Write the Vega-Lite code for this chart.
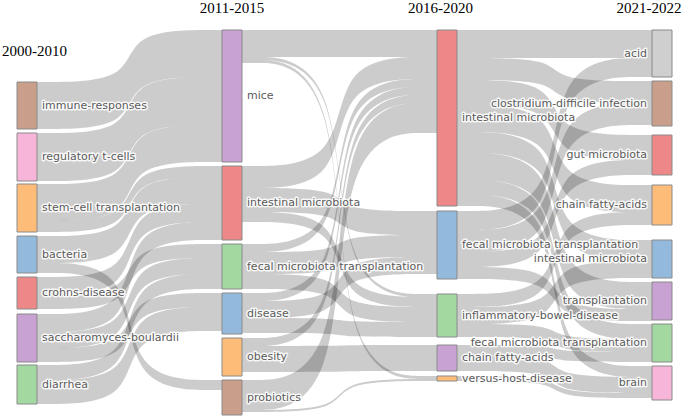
{
  "$schema": "https://vega.github.io/schema/vega-lite/v6.json",
  "width": 685,
  "height": 419,
  "autosize": {"type": "fit", "contains": "padding"},
  "padding": 0,
  "background": "white",
  "config": {"view": {"stroke": null}},
  "datasets": {
    "links": [
      {"link": "2000-2010 immune-responses → 2011-2015 mice", "px": [37,129.5,129.5,222], "top": [82,82,30,30], "bot": [129,129,77,77]},
      {"link": "2000-2010 regulatory t-cells → 2011-2015 mice", "px": [37,129.5,129.5,222], "top": [133,133,77,77], "bot": [181,181,125,125]},
      {"link": "2000-2010 stem-cell transplantation → 2011-2015 mice", "px": [37,129.5,129.5,222], "top": [184,184,125,125], "bot": [221,221,162,162]},
      {"link": "2000-2010 stem-cell transplantation → 2011-2015 intestinal microbiota", "px": [37,129.5,129.5,222], "top": [221,221,166,166], "bot": [232,232,177,177]},
      {"link": "2000-2010 bacteria → 2011-2015 intestinal microbiota", "px": [37,129.5,129.5,222], "top": [236,236,177,177], "bot": [263,263,204,204]},
      {"link": "2000-2010 bacteria → 2011-2015 probiotics", "px": [37,129.5,129.5,222], "top": [263,263,380,380], "bot": [273,273,390,390]},
      {"link": "2000-2010 crohns-disease → 2011-2015 intestinal microbiota", "px": [37,129.5,129.5,222], "top": [277,277,204,204], "bot": [295,295,222,222]},
      {"link": "2000-2010 crohns-disease → 2011-2015 fecal microbiota transplantation", "px": [37,129.5,129.5,222], "top": [295,295,244,244], "bot": [309,309,258,258]},
      {"link": "2000-2010 saccharomyces-boulardii → 2011-2015 intestinal microbiota", "px": [37,129.5,129.5,222], "top": [314,314,222,222], "bot": [332,332,240,240]},
      {"link": "2000-2010 saccharomyces-boulardii → 2011-2015 fecal microbiota transplantation", "px": [37,129.5,129.5,222], "top": [332,332,258,258], "bot": [348,348,274,274]},
      {"link": "2000-2010 saccharomyces-boulardii → 2011-2015 disease", "px": [37,129.5,129.5,222], "top": [348,348,293,293], "bot": [362,362,307,307]},
      {"link": "2000-2010 diarrhea → 2011-2015 fecal microbiota transplantation", "px": [37,129.5,129.5,222], "top": [365,365,274,274], "bot": [380,380,289,289]},
      {"link": "2000-2010 diarrhea → 2011-2015 disease", "px": [37,129.5,129.5,222], "top": [380,380,307,307], "bot": [404,404,331,331]},

      {"link": "2011-2015 mice → 2016-2020 intestinal microbiota", "px": [242,339.5,339.5,437], "top": [30,30,30,30], "bot": [57,57,57,57]},
      {"link": "2011-2015 mice → 2016-2020 inflammatory-bowel-disease", "px": [242,339.5,339.5,437], "top": [57,57,294,294], "bot": [60,60,297,297]},
      {"link": "2011-2015 mice → 2016-2020 versus-host-disease", "px": [242,339.5,339.5,437], "top": [60,60,376,376], "bot": [63,63,379,379]},
      {"link": "2011-2015 intestinal microbiota → 2016-2020 intestinal microbiota", "px": [242,339.5,339.5,437], "top": [166,166,57,57], "bot": [188,188,79,79]},
      {"link": "2011-2015 intestinal microbiota → 2016-2020 fecal microbiota transplantation", "px": [242,339.5,339.5,437], "top": [188,188,211,211], "bot": [212,212,235,235]},
      {"link": "2011-2015 intestinal microbiota → 2016-2020 inflammatory-bowel-disease", "px": [242,339.5,339.5,437], "top": [212,212,297,297], "bot": [222,222,307,307]},
      {"link": "2011-2015 fecal microbiota transplantation → 2016-2020 intestinal microbiota", "px": [242,339.5,339.5,437], "top": [244,244,79,79], "bot": [252,252,87,87]},
      {"link": "2011-2015 fecal microbiota transplantation → 2016-2020 fecal microbiota transplantation", "px": [242,339.5,339.5,437], "top": [252,252,235,235], "bot": [274,274,257,257]},
      {"link": "2011-2015 fecal microbiota transplantation → 2016-2020 inflammatory-bowel-disease", "px": [242,339.5,339.5,437], "top": [274,274,307,307], "bot": [289,289,322,322]},
      {"link": "2011-2015 disease → 2016-2020 intestinal microbiota", "px": [242,339.5,339.5,437], "top": [293,293,87,87], "bot": [301,301,95,95]},
      {"link": "2011-2015 disease → 2016-2020 fecal microbiota transplantation", "px": [242,339.5,339.5,437], "top": [301,301,257,257], "bot": [318,318,274,274]},
      {"link": "2011-2015 disease → 2016-2020 inflammatory-bowel-disease", "px": [242,339.5,339.5,437], "top": [318,318,322,322], "bot": [333,333,337,337]},
      {"link": "2011-2015 obesity → 2016-2020 intestinal microbiota", "px": [242,339.5,339.5,437], "top": [338,338,95,95], "bot": [346,346,103,103]},
      {"link": "2011-2015 obesity → 2016-2020 chain fatty-acids", "px": [242,339.5,339.5,437], "top": [346,346,345,345], "bot": [372,372,371,371]},
      {"link": "2011-2015 probiotics → 2016-2020 intestinal microbiota", "px": [242,339.5,339.5,437], "top": [380,380,103,103], "bot": [410,410,133,133]},
      {"link": "2011-2015 probiotics → 2016-2020 versus-host-disease", "px": [242,339.5,339.5,437], "top": [410,410,379,379], "bot": [412,412,381,381]},

      {"link": "2016-2020 intestinal microbiota → 2021-2022 acid", "px": [457,554.5,554.5,652], "top": [30,30,30,30], "bot": [58,58,58,58]},
      {"link": "2016-2020 intestinal microbiota → 2021-2022 clostridium-difficile infection", "px": [457,554.5,554.5,652], "top": [58,58,81,81], "bot": [80,80,103,103]},
      {"link": "2016-2020 intestinal microbiota → 2021-2022 gut microbiota", "px": [457,554.5,554.5,652], "top": [80,80,135,135], "bot": [105,105,160,160]},
      {"link": "2016-2020 intestinal microbiota → 2021-2022 chain fatty-acids", "px": [457,554.5,554.5,652], "top": [105,105,185,185], "bot": [132,132,212,212]},
      {"link": "2016-2020 intestinal microbiota → 2021-2022 intestinal microbiota", "px": [457,554.5,554.5,652], "top": [132,132,240,240], "bot": [153,153,261,261]},
      {"link": "2016-2020 intestinal microbiota → 2021-2022 transplantation", "px": [457,554.5,554.5,652], "top": [153,153,282,282], "bot": [180,180,309,309]},
      {"link": "2016-2020 intestinal microbiota → 2021-2022 fecal microbiota transplantation", "px": [457,554.5,554.5,652], "top": [180,180,324,324], "bot": [195,195,339,339]},
      {"link": "2016-2020 intestinal microbiota → 2021-2022 brain", "px": [457,554.5,554.5,652], "top": [195,195,366,366], "bot": [206,206,377,377]},
      {"link": "2016-2020 fecal microbiota transplantation → 2021-2022 acid", "px": [457,554.5,554.5,652], "top": [211,211,58,58], "bot": [230,230,77,77]},
      {"link": "2016-2020 fecal microbiota transplantation → 2021-2022 clostridium-difficile infection", "px": [457,554.5,554.5,652], "top": [230,230,103,103], "bot": [252,252,125,125]},
      {"link": "2016-2020 fecal microbiota transplantation → 2021-2022 gut microbiota", "px": [457,554.5,554.5,652], "top": [252,252,160,160], "bot": [267,267,175,175]},
      {"link": "2016-2020 fecal microbiota transplantation → 2021-2022 transplantation", "px": [457,554.5,554.5,652], "top": [267,267,309,309], "bot": [279,279,321,321]},
      {"link": "2016-2020 inflammatory-bowel-disease → 2021-2022 chain fatty-acids", "px": [457,554.5,554.5,652], "top": [294,294,212,212], "bot": [307,307,225,225]},
      {"link": "2016-2020 inflammatory-bowel-disease → 2021-2022 intestinal microbiota", "px": [457,554.5,554.5,652], "top": [307,307,261,261], "bot": [324,324,278,278]},
      {"link": "2016-2020 inflammatory-bowel-disease → 2021-2022 fecal microbiota transplantation", "px": [457,554.5,554.5,652], "top": [324,324,339,339], "bot": [337,337,352,352]},
      {"link": "2016-2020 chain fatty-acids → 2021-2022 fecal microbiota transplantation", "px": [457,554.5,554.5,652], "top": [345,345,352,352], "bot": [355,355,362,362]},
      {"link": "2016-2020 chain fatty-acids → 2021-2022 brain", "px": [457,554.5,554.5,652], "top": [355,355,377,377], "bot": [371,371,393,393]},
      {"link": "2016-2020 versus-host-disease → 2021-2022 brain", "px": [457,554.5,554.5,652], "top": [376,376,393,393], "bot": [381,381,398,398]}
    ],
    "nodes": [
      {"id": "0 immune-responses", "stage": 0, "name": "immune-responses", "x0": 17, "x1": 37, "y0": 82, "y1": 129},
      {"id": "0 regulatory t-cells", "stage": 0, "name": "regulatory t-cells", "x0": 17, "x1": 37, "y0": 133, "y1": 181},
      {"id": "0 stem-cell transplantation", "stage": 0, "name": "stem-cell transplantation", "x0": 17, "x1": 37, "y0": 184, "y1": 232},
      {"id": "0 bacteria", "stage": 0, "name": "bacteria", "x0": 17, "x1": 37, "y0": 236, "y1": 273},
      {"id": "0 crohns-disease", "stage": 0, "name": "crohns-disease", "x0": 17, "x1": 37, "y0": 277, "y1": 309},
      {"id": "0 saccharomyces-boulardii", "stage": 0, "name": "saccharomyces-boulardii", "x0": 17, "x1": 37, "y0": 314, "y1": 362},
      {"id": "0 diarrhea", "stage": 0, "name": "diarrhea", "x0": 17, "x1": 37, "y0": 365, "y1": 404},
      {"id": "1 mice", "stage": 1, "name": "mice", "x0": 222, "x1": 242, "y0": 30, "y1": 162},
      {"id": "1 intestinal microbiota", "stage": 1, "name": "intestinal microbiota", "x0": 222, "x1": 242, "y0": 166, "y1": 240},
      {"id": "1 fecal microbiota transplantation", "stage": 1, "name": "fecal microbiota transplantation", "x0": 222, "x1": 242, "y0": 244, "y1": 289},
      {"id": "1 disease", "stage": 1, "name": "disease", "x0": 222, "x1": 242, "y0": 293, "y1": 334},
      {"id": "1 obesity", "stage": 1, "name": "obesity", "x0": 222, "x1": 242, "y0": 338, "y1": 376},
      {"id": "1 probiotics", "stage": 1, "name": "probiotics", "x0": 222, "x1": 242, "y0": 380, "y1": 415},
      {"id": "2 intestinal microbiota", "stage": 2, "name": "intestinal microbiota", "x0": 437, "x1": 457, "y0": 30, "y1": 206},
      {"id": "2 fecal microbiota transplantation", "stage": 2, "name": "fecal microbiota transplantation", "x0": 437, "x1": 457, "y0": 211, "y1": 279},
      {"id": "2 inflammatory-bowel-disease", "stage": 2, "name": "inflammatory-bowel-disease", "x0": 437, "x1": 457, "y0": 294, "y1": 337},
      {"id": "2 chain fatty-acids", "stage": 2, "name": "chain fatty-acids", "x0": 437, "x1": 457, "y0": 345, "y1": 371},
      {"id": "2 versus-host-disease", "stage": 2, "name": "versus-host-disease", "x0": 437, "x1": 457, "y0": 376, "y1": 381},
      {"id": "3 acid", "stage": 3, "name": "acid", "x0": 652, "x1": 672, "y0": 30, "y1": 77},
      {"id": "3 clostridium-difficile infection", "stage": 3, "name": "clostridium-difficile infection", "x0": 652, "x1": 672, "y0": 81, "y1": 126},
      {"id": "3 gut microbiota", "stage": 3, "name": "gut microbiota", "x0": 652, "x1": 672, "y0": 135, "y1": 175},
      {"id": "3 chain fatty-acids", "stage": 3, "name": "chain fatty-acids", "x0": 652, "x1": 672, "y0": 185, "y1": 225},
      {"id": "3 intestinal microbiota", "stage": 3, "name": "intestinal microbiota", "x0": 652, "x1": 672, "y0": 240, "y1": 278},
      {"id": "3 transplantation", "stage": 3, "name": "transplantation", "x0": 652, "x1": 672, "y0": 282, "y1": 320},
      {"id": "3 fecal microbiota transplantation", "stage": 3, "name": "fecal microbiota transplantation", "x0": 652, "x1": 672, "y0": 324, "y1": 362},
      {"id": "3 brain", "stage": 3, "name": "brain", "x0": 652, "x1": 672, "y0": 366, "y1": 400}
    ],
    "stages": [
      {"title": "2000-2010", "x": 34.5, "y": 51},
      {"title": "2011-2015", "x": 232, "y": 8},
      {"title": "2016-2020", "x": 440.5, "y": 8},
      {"title": "2021-2022", "x": 649, "y": 8}
    ]
  },
  "layer": [
    {
      "data": {"name": "links"},
      "transform": [{"flatten": ["px", "top", "bot"]}],
      "mark": {"type": "area", "interpolate": "basis", "color": "#000000", "opacity": 0.2},
      "encoding": {
        "x": {"field": "px", "type": "quantitative", "scale": {"domain": [0, 685], "nice": false, "zero": false}, "axis": null},
        "y": {"field": "top", "type": "quantitative", "scale": {"domain": [0, 419], "reverse": true, "nice": false, "zero": false}, "axis": null},
        "y2": {"field": "bot"},
        "detail": {"field": "link", "type": "nominal"}
      }
    },
    {
      "data": {"name": "nodes"},
      "mark": {"type": "rect", "stroke": "#8a8a8a", "strokeWidth": 1},
      "encoding": {
        "x": {"field": "x0", "type": "quantitative"},
        "x2": {"field": "x1"},
        "y": {"field": "y0", "type": "quantitative"},
        "y2": {"field": "y1"},
        "color": {
          "field": "id", "type": "nominal", "legend": null,
          "scale": {
            "domain": ["0 immune-responses", "0 regulatory t-cells", "0 stem-cell transplantation", "0 bacteria", "0 crohns-disease", "0 saccharomyces-boulardii", "0 diarrhea",
                       "1 mice", "1 intestinal microbiota", "1 fecal microbiota transplantation", "1 disease", "1 obesity", "1 probiotics",
                       "2 intestinal microbiota", "2 fecal microbiota transplantation", "2 inflammatory-bowel-disease", "2 chain fatty-acids", "2 versus-host-disease",
                       "3 acid", "3 clostridium-difficile infection", "3 gut microbiota", "3 chain fatty-acids", "3 intestinal microbiota", "3 transplantation", "3 fecal microbiota transplantation", "3 brain"],
            "range": ["#c99f8b", "#f7b6d9", "#fdbc78", "#93badd", "#ee8888", "#c8a2d2", "#a4d8a1",
                      "#c8a2d2", "#ee8888", "#a4d8a1", "#93badd", "#fdbc78", "#c99f8b",
                      "#ee8888", "#93badd", "#a4d8a1", "#c8a2d2", "#fdbc78",
                      "#cfcfcf", "#c99f8b", "#ee8888", "#fdbc78", "#93badd", "#c8a2d2", "#a4d8a1", "#f7b6d9"]
          }
        }
      }
    },
    {
      "data": {"name": "nodes"},
      "transform": [{"filter": "datum.stage < 3"}, {"calculate": "(datum.y0 + datum.y1) / 2", "as": "ym"}],
      "mark": {"type": "text", "align": "left", "baseline": "middle", "dx": 5, "font": "DejaVu Sans", "fontSize": 11, "fill": "#ffffff", "stroke": "#ffffff", "strokeWidth": 3, "strokeOpacity": 0.85, "strokeJoin": "round"},
      "encoding": {
        "x": {"field": "x1", "type": "quantitative"},
        "y": {"field": "ym", "type": "quantitative"},
        "text": {"field": "name"}
      }
    },
    {
      "data": {"name": "nodes"},
      "transform": [{"filter": "datum.stage < 3"}, {"calculate": "(datum.y0 + datum.y1) / 2", "as": "ym"}],
      "mark": {"type": "text", "align": "left", "baseline": "middle", "dx": 5, "font": "DejaVu Sans", "fontSize": 11, "color": "#5a5a5a"},
      "encoding": {
        "x": {"field": "x1", "type": "quantitative"},
        "y": {"field": "ym", "type": "quantitative"},
        "text": {"field": "name"}
      }
    },
    {
      "data": {"name": "nodes"},
      "transform": [{"filter": "datum.stage == 3"}, {"calculate": "(datum.y0 + datum.y1) / 2", "as": "ym"}],
      "mark": {"type": "text", "align": "right", "baseline": "middle", "dx": -5, "font": "DejaVu Sans", "fontSize": 11, "fill": "#ffffff", "stroke": "#ffffff", "strokeWidth": 3, "strokeOpacity": 0.85, "strokeJoin": "round"},
      "encoding": {
        "x": {"field": "x0", "type": "quantitative"},
        "y": {"field": "ym", "type": "quantitative"},
        "text": {"field": "name"}
      }
    },
    {
      "data": {"name": "nodes"},
      "transform": [{"filter": "datum.stage == 3"}, {"calculate": "(datum.y0 + datum.y1) / 2", "as": "ym"}],
      "mark": {"type": "text", "align": "right", "baseline": "middle", "dx": -5, "font": "DejaVu Sans", "fontSize": 11, "color": "#5a5a5a"},
      "encoding": {
        "x": {"field": "x0", "type": "quantitative"},
        "y": {"field": "ym", "type": "quantitative"},
        "text": {"field": "name"}
      }
    },
    {
      "data": {"name": "stages"},
      "mark": {"type": "text", "align": "center", "baseline": "middle", "font": "Liberation Serif", "fontSize": 15, "color": "#000000"},
      "encoding": {
        "x": {"field": "x", "type": "quantitative"},
        "y": {"field": "y", "type": "quantitative"},
        "text": {"field": "title"}
      }
    }
  ]
}
